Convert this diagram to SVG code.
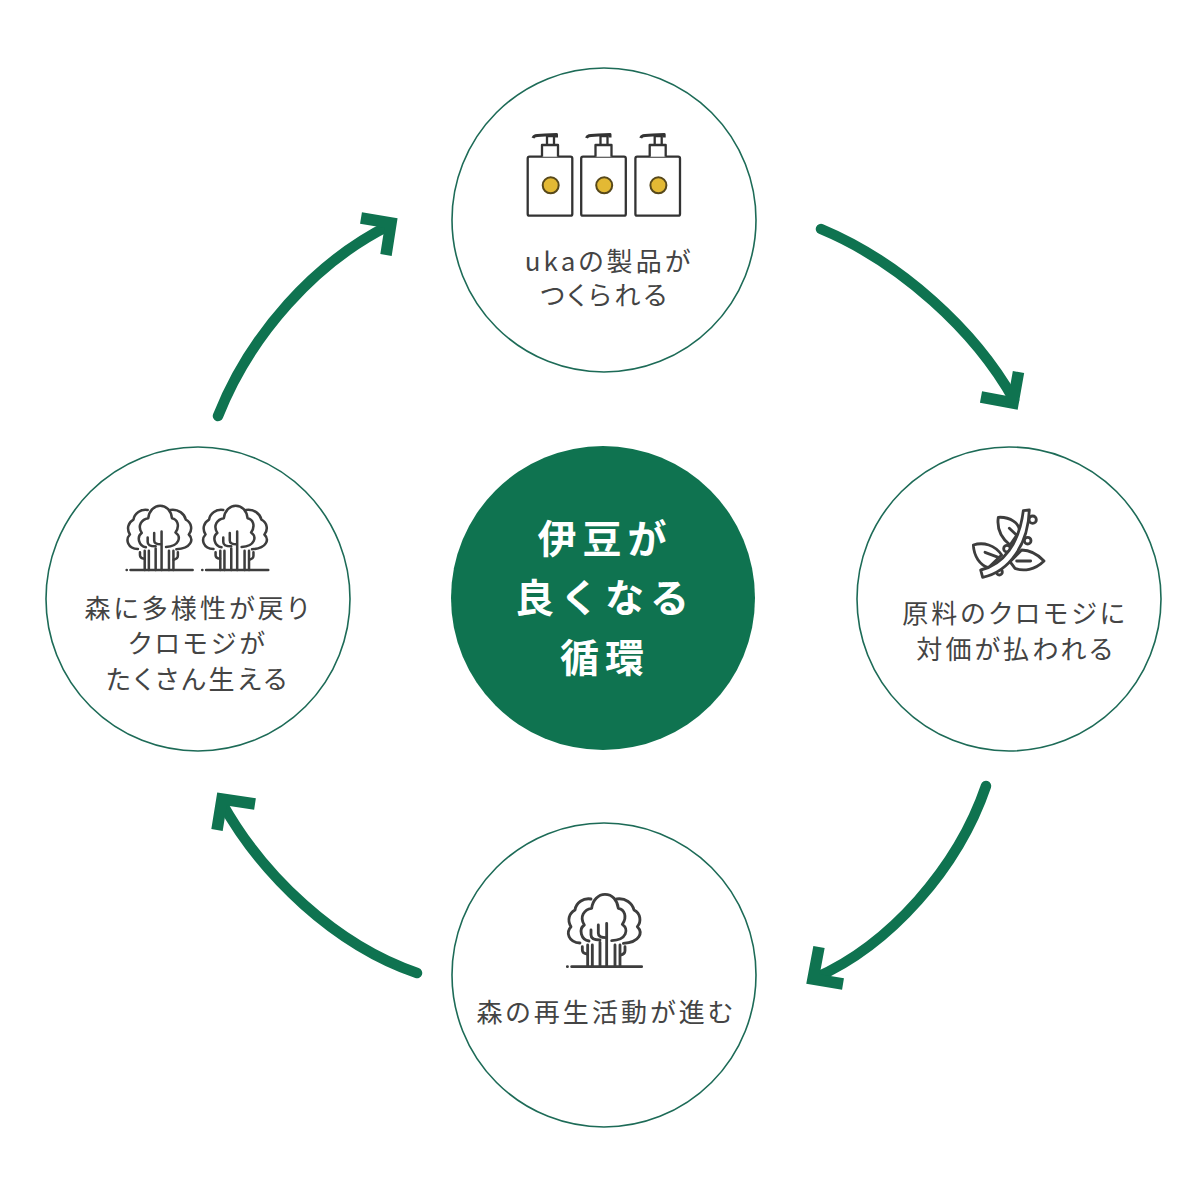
<svg xmlns="http://www.w3.org/2000/svg" xmlns:xlink="http://www.w3.org/1999/xlink" width="1200" height="1200" viewBox="0 0 1200 1200">
<style>
.ring{fill:#fff;stroke:#1d6b57;stroke-width:1.6}
.t{font-family:"Noto Sans CJK JP","Noto Sans",sans-serif;font-size:26px;letter-spacing:3.1px;fill:#444;text-anchor:middle;font-feature-settings:"palt"}
.c{font-family:"Noto Sans CJK JP","Noto Sans",sans-serif;font-size:39px;font-weight:700;letter-spacing:6px;fill:#fff;text-anchor:middle}
.arc{fill:none;stroke:#0f7350;stroke-width:10.500;stroke-linecap:round}
.head{fill:none;stroke:#0f7350;stroke-width:11.500;stroke-linejoin:miter}
.i{fill:none;stroke:#3d3d3d;stroke-linecap:round;stroke-linejoin:round}
.b{fill:#fff;stroke:#333;stroke-width:2.300;stroke-linejoin:round}
</style>
<defs>
<g id="tree" class="i" stroke-width="8.500">
<path d="M102,168C78,165 70,132 88,120C72,95 88,73 110,70C113,45 130,28 150,28C172,28 187,45 190,70C208,73 218,96 202,118C222,132 216,165 170,167"/>
<path d="M108,42C85,38 63,53 60,75C42,85 36,105 48,125C32,142 40,172 75,174"/>
<path d="M185,42C212,38 232,55 237,75C257,85 260,110 247,125C264,142 256,172 205,175"/>
<path d="M155,115V245M135,172V245M112,180V245M98,180V245M180,180V245M195,180V245"/>
<path d="M108,135V150Q108,165 135,165M130,120V145Q130,158 153,158"/>
<path d="M82,185V195Q82,205 97,207M210,185V197Q210,207 196,210"/>
<path d="M50,245H260M37,245H37.5"/>
</g>
<g id="bottle">
<path class="b" d="M527.7,158.5Q527.7,156.7 529.5,156.7H570.5Q572.3,156.7 572.3,158.5V214Q572.3,215.7 570.5,215.7H529.5Q527.7,215.7 527.7,214Z"/>
<path class="b" d="M542,156.7V145H558V156.7M547,145V136H554V145"/>
<path d="M533,138C534,135 537,135.500 545,135L556.500,134.500V137.500" fill="none" stroke="#333" stroke-width="3" stroke-linejoin="round"/>
<circle cx="550.7" cy="185.3" r="8" fill="#e3b934" stroke="#57481a" stroke-width="2"/>
</g>
</defs>
<rect width="1200" height="1200" fill="#fff"/>
<g id="connectors">
<path class="arc" d="M821,229C900,262 975,330 1014,400"/>
<path class="head" d="M1018.500,372L1013,403L981,397"/>
<path class="arc" d="M986,786C958,868 890,945 815,978"/>
<path class="head" d="M843,984L813,979L819,947"/>
<path class="arc" d="M417,973C335,945 262,875 222,803"/>
<path class="head" d="M255,804L222,799L217,830"/>
<path class="arc" d="M218,416C250,335 315,262 390,225"/>
<path class="head" d="M361,218L391,223L386,255"/>
</g>
<g id="node-products">
<circle class="ring" cx="604" cy="220" r="152"/>
<use xlink:href="#bottle" href="#bottle"/>
<use xlink:href="#bottle" href="#bottle" x="53.500"/>
<use xlink:href="#bottle" href="#bottle" x="107.700"/>
<text class="t" x="609" y="271">ukaの製品が</text>
<text class="t" x="605" y="305">つくられる</text>
</g>
<g id="node-payment">
<circle class="ring" cx="1009" cy="599" r="152"/>
<g transform="translate(960,500) scale(.3333)" class="i" stroke-width="8.500">
<path d="M115,52C150,50 180,70 178,95L150,135C125,115 110,85 115,52ZM148,85L175,110" fill="#fff"/>
<path d="M40,135C70,125 105,135 125,165L85,203C60,195 42,170 40,135ZM75,157L115,172" fill="#fff"/>
<path d="M185,150C210,150 235,165 252,183C225,210 190,215 165,205L150,185ZM170,183H212" fill="#fff"/>
<circle cx="218" cy="59" r="11" fill="#fff"/>
<circle cx="203" cy="122" r="10" fill="#fff"/>
<circle cx="141" cy="146" r="10" fill="#fff"/>
<circle cx="118" cy="216" r="9" fill="#fff"/>
<path d="M62,210C130,195 178,130 190,32L208,30C205,130 150,215 68,232Z" fill="#fff"/>
</g>
<text class="t" x="1015" y="623">原料のクロモジに</text>
<text class="t" x="1016" y="659">対価が払われる</text>
</g>
<g id="node-forest">
<circle class="ring" cx="604" cy="975" r="152"/>
<use xlink:href="#tree" href="#tree" transform="translate(555,885) scale(.3333)"/>
<text class="t" x="606" y="1022">森の再生活動が進む</text>
</g>
<g id="node-diversity">
<circle class="ring" cx="198" cy="599" r="152"/>
<use xlink:href="#tree" href="#tree" transform="translate(115.700,497.500) scale(.296)"/>
<use xlink:href="#tree" href="#tree" transform="translate(191.300,497.500) scale(.296)"/>
<text class="t" x="198" y="618">森に多様性が戻り</text>
<text class="t" x="198" y="653">クロモジが</text>
<text class="t" x="198" y="689">たくさん生える</text>
</g>
<g id="node-center">
<circle cx="603" cy="598" r="152" fill="#0f7350"/>
<text class="c" x="605" y="553">伊豆が</text>
<text class="c" x="605" y="612">良くなる</text>
<text class="c" x="605" y="672">循環</text>
</g>
</svg>
